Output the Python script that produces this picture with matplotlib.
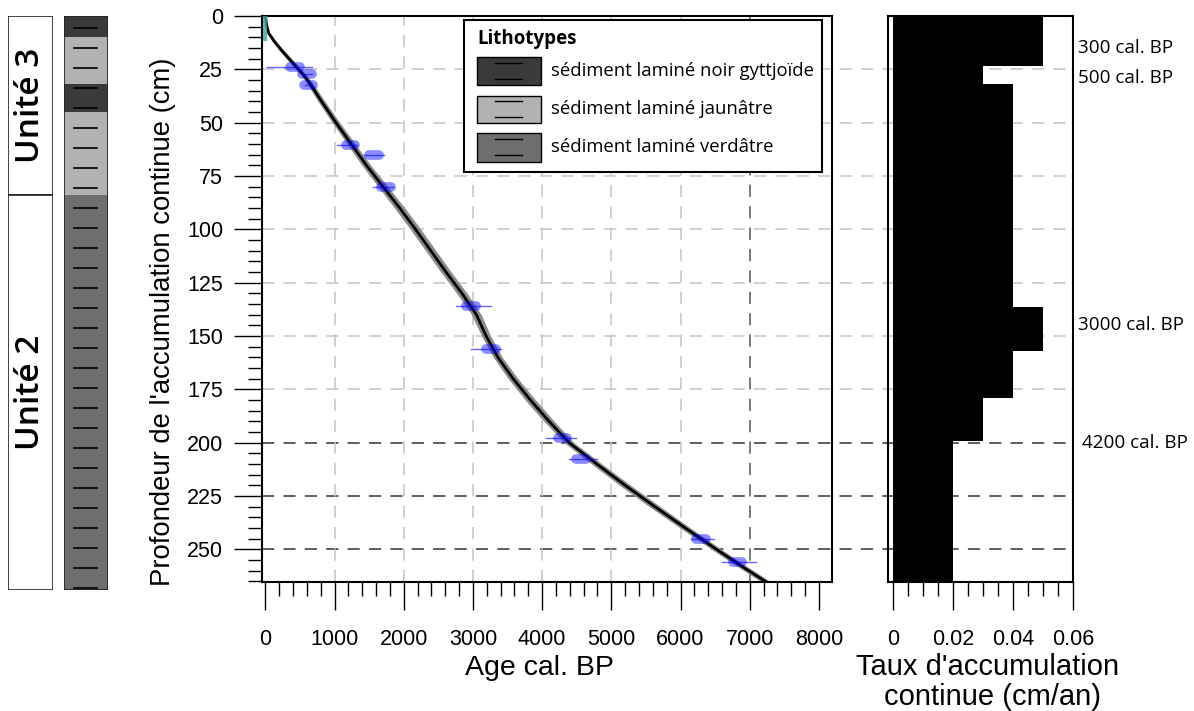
import numpy as np
import matplotlib
matplotlib.use('Agg')
import matplotlib.pyplot as plt
from matplotlib.patches import Rectangle
from matplotlib.lines import Line2D
from matplotlib.transforms import blended_transform_factory
from matplotlib.ticker import MultipleLocator, FixedLocator

plt.rcParams['font.family'] = ['Liberation Sans', 'DejaVu Sans']

# age-depth model (depth in cm, age in cal. BP)
curve_depth = [0, 4, 8, 12, 16, 20, 24, 28, 32, 40, 50, 60, 70, 80, 90, 100, 110, 120,
               130, 140, 150, 160, 170, 180, 190, 200, 210, 220, 230, 240, 250, 258, 265.3]
curve_age = [0, 15, 45, 130, 230, 340, 450, 560, 650, 810, 1020, 1240, 1460, 1700, 1940,
             2170, 2390, 2610, 2840, 3050, 3190, 3360, 3580, 3830, 4100, 4390, 4790, 5200,
             5630, 6070, 6520, 6890, 7240]
curve_spread = [0, 10, 20, 30, 35, 40, 40, 40, 45, 50, 55, 60, 65, 70, 75, 75, 75, 75,
                75, 70, 65, 65, 70, 75, 75, 70, 75, 80, 80, 75, 70, 70, 70]

# calibrated dates: depth, median age, age range
date_depth = [24, 27, 32.5, 60.5, 65, 80, 136, 156, 198, 207.7, 245, 256]
date_age = [430, 600, 620, 1230, 1565, 1740, 2970, 3260, 4295, 4560, 6295, 6825]
date_lo = [29, 540, 570, 1040, 1420, 1560, 2750, 2970, 4050, 4385, 6150, 6600]
date_hi = [680, 680, 670, 1330, 1710, 1850, 3255, 3400, 4490, 4800, 6480, 7090]

# accumulation rate steps
rate_top = [0, 23.5, 32, 136.5, 157, 179, 199]
rate_bottom = [23.5, 32, 136.5, 157, 179, 199, 265.3]
rate_value = [0.05, 0.03, 0.04, 0.05, 0.04, 0.03, 0.02]

event_labels = ['300 cal. BP', '500 cal. BP', '3000 cal. BP', '4200 cal. BP']
event_depth = [15, 29, 145, 200]

litho_names = ['sédiment laminé noir gyttjoïde', 'sédiment laminé jaunâtre',
               'sédiment laminé verdâtre']
litho_colors = ['#3a3a3a', '#b2b2b2', '#6e6e6e']
litho_top = [0, 10, 32, 45, 84]
litho_bottom = [10, 32, 45, 84, 269.1]
litho_kind = [0, 1, 0, 1, 2]

unit_names = ['Unité 3', 'Unité 2']
unit_top = [0, 84]
unit_bottom = [84, 269.1]

age_ticks = list(range(0, 8001, 1000))
depth_ticks = list(range(0, 251, 25))
rate_ticks = [0, 0.02, 0.04, 0.06]
rate_ticklabels = ['0', '0.02', '0.04', '0.06']
dark_depths = [200, 225, 250]
dark_ages = [7000]

W, H = 1194, 711


def box(x0, y0, x1, y1):
    return [x0 / W, 1 - y1 / H, (x1 - x0) / W, (y1 - y0) / H]


def main():
    fig = plt.figure(figsize=(W / 100, H / 100), dpi=100)
    ax = fig.add_axes(box(262, 16, 832, 582), facecolor='none')
    ax2 = fig.add_axes(box(888, 16, 1073, 582), facecolor='none')
    ax_col = fig.add_axes(box(64, 16, 108, 590))
    ax_unit = fig.add_axes(box(8, 16, 53, 590))

    # ---- main age-depth panel
    ax.set_xlim(-50, 8190)
    ax.set_ylim(265.3, 0)
    for a in age_ticks[1:-1]:
        dark = a in dark_ages
        ax.axvline(a, color='#555555' if dark else '#c4c4c4', lw=1.1,
                   dashes=(8, 6), zorder=0.5)

    age = np.array(curve_age)
    spread = np.array(curve_spread)
    ax.fill_betweenx(curve_depth, age - spread, age + spread, color='#8c8c8c',
                     lw=0, zorder=2)
    ax.plot(curve_age, curve_depth, color='black', lw=2, zorder=3)
    ax.plot([0, 0], [0, 11], color='#3aa89a', lw=3, alpha=0.8, zorder=4)

    for d, a, lo, hi in zip(date_depth, date_age, date_lo, date_hi):
        ax.plot([lo, hi], [d, d], color='blue', lw=1, alpha=0.6, zorder=4)
        ax.plot([a - 70, a + 70], [d, d], color='blue', lw=7, alpha=0.45,
                solid_capstyle='round', zorder=4)

    ax.set_xticks(age_ticks)
    ax.set_xticklabels([str(a) for a in age_ticks])
    ax.xaxis.set_minor_locator(MultipleLocator(200))
    ax.set_yticks(depth_ticks)
    ax.yaxis.set_minor_locator(MultipleLocator(5))
    ax.tick_params(which='major', length=20, width=1.0)
    ax.tick_params(which='minor', length=10, width=1.0)
    ax.tick_params(axis='x', which='major', pad=14, labelsize=15.5)
    ax.tick_params(axis='y', which='major', pad=8, labelsize=15.5)
    for s in ax.spines.values():
        s.set_linewidth(1.5)

    # legend drawn by hand
    def fx(x):
        return (x - 262) / 570

    def fy(y):
        return 1 - (y - 16) / 566

    ax.add_patch(Rectangle((fx(464), fy(172)), fx(822) - fx(464), fy(20) - fy(172),
                           transform=ax.transAxes, facecolor='white', edgecolor='black',
                           lw=1.5, zorder=6))
    ax.text(fx(477), fy(39), 'Lithotypes', transform=ax.transAxes, ha='left',
            va='center', fontsize=13.5, fontweight='bold', family=['Open Sans'], zorder=7)
    rect_y = [(57, 85), (96, 123), (133, 162)]
    for (y0, y1), name, col in zip(rect_y, litho_names, litho_colors):
        ax.add_patch(Rectangle((fx(477), fy(y1)), fx(541) - fx(477), fy(y0) - fy(y1),
                               transform=ax.transAxes, facecolor=col,
                               edgecolor='black', lw=1.0, zorder=7))
        for frac in (0.2, 0.77):
            yy = y0 + frac * (y1 - y0)
            ax.add_line(Line2D([fx(495), fx(522)], [fy(yy), fy(yy)],
                               transform=ax.transAxes, color='black', lw=1.0, zorder=8))
        ax.text(fx(551), fy((y0 + y1) / 2), name, transform=ax.transAxes, ha='left',
                va='center', fontsize=13.3, family=['Open Sans'], zorder=7)

    # ---- accumulation rate panel
    ax2.set_xlim(-0.0016, 0.06)
    ax2.set_ylim(265.3, 0)
    heights = [b - t for t, b in zip(rate_top, rate_bottom)]
    ax2.barh(rate_top, rate_value, height=heights, align='edge', color='black',
             lw=0, zorder=2)
    ax2.set_yticks([])
    ax2.set_xticks(rate_ticks)
    ax2.set_xticklabels(rate_ticklabels)
    ax2.xaxis.set_minor_locator(FixedLocator(np.arange(0, 0.0601, 0.005)))
    ax2.tick_params(which='major', length=20, width=1.0)
    ax2.tick_params(which='minor', length=10, width=1.0)
    ax2.tick_params(axis='x', which='major', pad=14, labelsize=15.5)
    for s in ax2.spines.values():
        s.set_linewidth(1.5)
    trans2 = blended_transform_factory(ax2.transAxes, ax2.transData)
    for lab, d in zip(event_labels, event_depth):
        xoff = 1.049 if lab.startswith('4200') else 1.027
        ax2.text(xoff, d, lab, transform=trans2, ha='left', va='center',
                 fontsize=13.6, family=['Open Sans'], clip_on=False)

    # horizontal grid running across both panels
    trans_h = blended_transform_factory(fig.transFigure, ax.transData)
    for d in depth_ticks[1:]:
        dark = d in dark_depths
        fig.add_artist(Line2D([262 / W, 1073 / W], [d, d], transform=trans_h,
                              color='#333333' if dark else '#c4c4c4', lw=1.1,
                              dashes=(8, 6), zorder=-1))

    # ---- lithology column
    ax_col.set_xlim(0, 1)
    ax_col.set_ylim(269.1, 0)
    ax_col.axis('off')
    for t, b, k in zip(litho_top, litho_bottom, litho_kind):
        ax_col.add_patch(Rectangle((0, t), 1, b - t, facecolor=litho_colors[k],
                                   edgecolor='none'))
    ax_col.add_patch(Rectangle((0, 0), 1, 269.1, facecolor='none', edgecolor='#222222',
                               lw=1.2))
    for yy in np.arange(5.6, 269, 9.375):
        ax_col.plot([0.23, 0.75], [yy, yy], color='black', lw=1.2)

    # ---- stratigraphic units
    ax_unit.set_xlim(0, 1)
    ax_unit.set_ylim(269.1, 0)
    ax_unit.axis('off')
    for name, t, b in zip(unit_names, unit_top, unit_bottom):
        ax_unit.add_patch(Rectangle((0, t), 1, b - t, facecolor='white',
                                    edgecolor='#222222', lw=1.2))
        ax_unit.text(0.5, (t + b) / 2, name, rotation=90, ha='center', va='center',
                     fontsize=24, fontweight='semibold', family=['Open Sans'])

    # axis titles
    fig.text(163 / W, 1 - 322 / H, "Profondeur de l'accumulation continue (cm)",
             rotation=90, ha='center', va='center', fontsize=19.8)
    fig.text(539 / W, 1 - 675 / H, 'Age cal. BP', ha='center', va='baseline',
             fontsize=20.5)
    fig.text(988 / W, 1 - 675 / H, "Taux d'accumulation", ha='center', va='baseline',
             fontsize=21)
    fig.text(992 / W, 1 - 705 / H, 'continue (cm/an)', ha='center', va='baseline',
             fontsize=21)

    fig.savefig('out.png', dpi=100)


if __name__ == '__main__':
    main()
